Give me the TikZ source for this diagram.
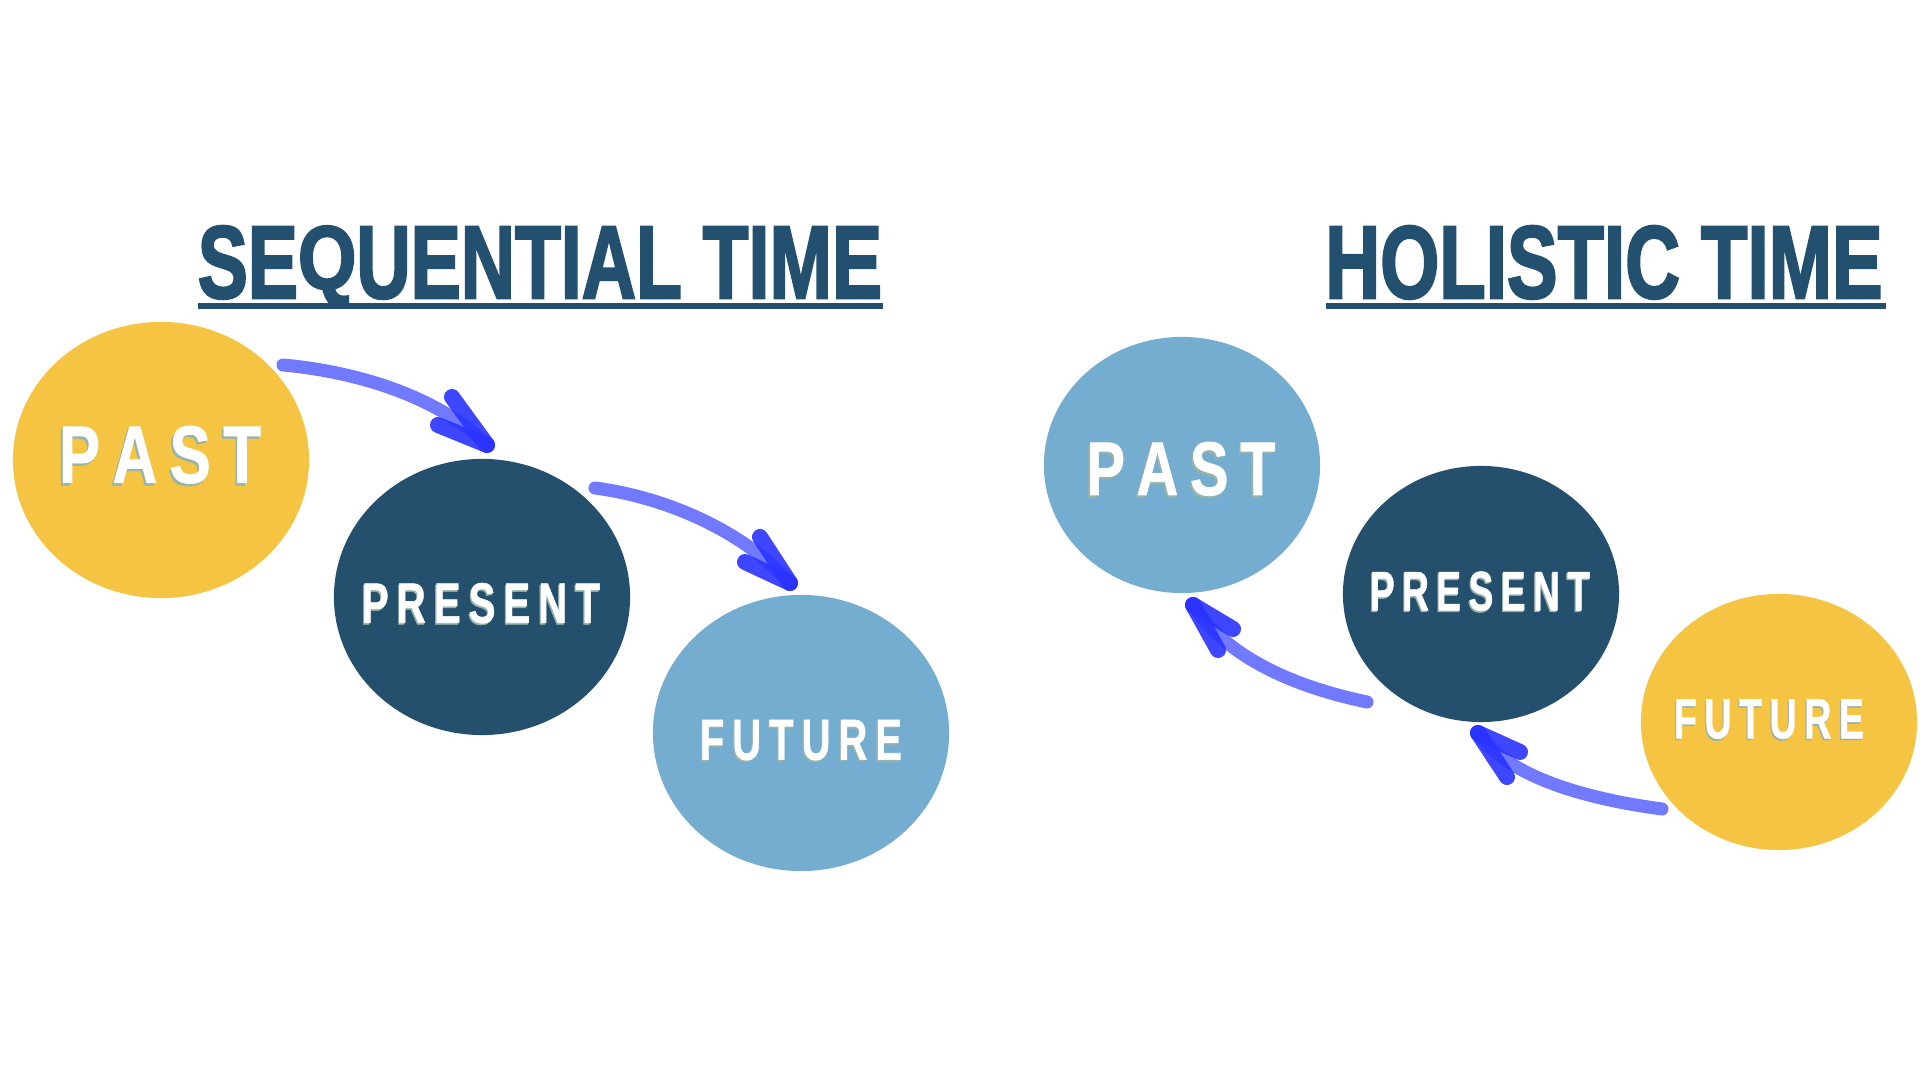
\documentclass[tikz,border=0pt]{standalone}
\usepackage{fontspec}
\setmainfont{Liberation Sans}
\newfontfamily\lblfont[BoldFeatures={FakeBold=1}]{Liberation Sans}
\newfontfamily\ttlfont[BoldFeatures={FakeBold=2.5}]{Liberation Sans}
\usetikzlibrary{shapes.geometric}
\definecolor{sunny}{HTML}{F5C443}
\definecolor{navy}{HTML}{244F6D}
\definecolor{sky}{HTML}{74ADD0}
\definecolor{titleblue}{HTML}{245070}
\definecolor{shaftblue}{HTML}{6A73FF}
\definecolor{headblue}{HTML}{2A33FF}
\definecolor{lblshadow}{HTML}{98B4A8}
\newcommand\lsp{\kern0.2em}
\newcommand\shortq{\raisebox{0.9pt}{\scalebox{1}[0.87]{Q}}}
\newcommand\circlabel[3]{\resizebox*{#1}{#2}{\lblfont\bfseries\rlap{\color{lblshadow}\kern-0.3pt\raisebox{-0.3pt}{#3}}#3}}
\tikzset{
  x=0.01cm, y=-0.01cm,
  bubble/.style={ellipse, inner sep=0pt},
  bigbubble/.style={bubble, minimum width=2.96cm, minimum height=2.76cm},
  smallbubble/.style={bubble, minimum width=2.76cm, minimum height=2.56cm},
  lbl/.style={inner sep=0pt, text=white},
  ttl/.style={inner sep=0pt, text=titleblue, anchor=base},
  rule/.style={draw=titleblue, line width=0.055cm},
  shaft/.style={draw=shaftblue, line width=0.13cm, line cap=round, opacity=0.95},
  head/.style={draw=headblue, line width=0.16cm, line cap=round, opacity=0.9},
}
\begin{document}
\begin{tikzpicture}
\useasboundingbox[fill=white] (0,0) rectangle (1920,1080);

% titles
\node[ttl] (t1) at (540,298) {\resizebox{6.84cm}{0.72cm}{\ttlfont\bfseries SE\shortq UENTIAL TIME}};
\node[ttl] (t2) at (1604,298) {\resizebox{5.57cm}{0.72cm}{\ttlfont\bfseries HOLISTIC TIME}};
\coordinate (u1a) at (198,306); \coordinate (u1b) at (883,306);
\coordinate (u2a) at (1326,306); \coordinate (u2b) at (1886,306);
\draw[rule] (u1a) -- (u1b);
\draw[rule] (u2a) -- (u2b);

% sequential bubbles
\node[bigbubble, fill=sunny] (pastL) at (161,460) {};
\node[bigbubble, fill=navy] (presL) at (482,597) {};
\node[bigbubble, fill=sky] (futL) at (801,733) {};
\node[lbl] (pastLt) at (160,456) {\circlabel{2.02cm}{0.60cm}{P\lsp A\lsp S\lsp T}};
\node[lbl] (presLt) at (481,604) {\circlabel{2.38cm}{0.42cm}{P\lsp R\lsp E\lsp S\lsp E\lsp N\lsp T}};
\node[lbl] (futLt) at (801,741) {\circlabel{2.02cm}{0.42cm}{F\lsp U\lsp T\lsp U\lsp R\lsp E}};

% holistic bubbles
\node[smallbubble, fill=sky] (pastR) at (1182,465) {};
\node[smallbubble, fill=navy] (presR) at (1481,594) {};
\node[smallbubble, fill=sunny] (futR) at (1779,722) {};
\node[lbl] (pastRt) at (1181,470) {\circlabel{1.89cm}{0.56cm}{P\lsp A\lsp S\lsp T}};
\node[lbl] (presRt) at (1480,592) {\circlabel{2.20cm}{0.41cm}{P\lsp R\lsp E\lsp S\lsp E\lsp N\lsp T}};
\node[lbl] (futRt) at (1769,720) {\circlabel{1.90cm}{0.41cm}{F\lsp U\lsp T\lsp U\lsp R\lsp E}};

% arrow ends
\coordinate (a1s) at (283,365); \coordinate (a1t) at (487,445);
\coordinate (a1h1) at (452,397); \coordinate (a1h2) at (438,425);
\coordinate (a2s) at (595,488); \coordinate (a2t) at (790,583);
\coordinate (a2h1) at (760,537); \coordinate (a2h2) at (745,562);
\coordinate (a3s) at (1367,702); \coordinate (a3t) at (1193,605);
\coordinate (a3h1) at (1233,629); \coordinate (a3h2) at (1218,650);
\coordinate (a4s) at (1662,809); \coordinate (a4t) at (1478,733);
\coordinate (a4h1) at (1520,752); \coordinate (a4h2) at (1507,777);

\draw[shaft] (a1s) .. controls (360,372) and (440,398) .. (a1t);
\draw[head] (a1h1) -- (a1t);
\draw[head] (a1h2) -- (a1t);

\draw[shaft] (a2s) .. controls (670,498) and (745,533) .. (a2t);
\draw[head] (a2h1) -- (a2t);
\draw[head] (a2h2) -- (a2t);

\draw[shaft] (a3s) .. controls (1300,688) and (1228,660) .. (a3t);
\draw[head] (a3h1) -- (a3t);
\draw[head] (a3h2) -- (a3t);

\draw[shaft] (a4s) .. controls (1595,800) and (1510,780) .. (a4t);
\draw[head] (a4h1) -- (a4t);
\draw[head] (a4h2) -- (a4t);
\end{tikzpicture}
\end{document}
